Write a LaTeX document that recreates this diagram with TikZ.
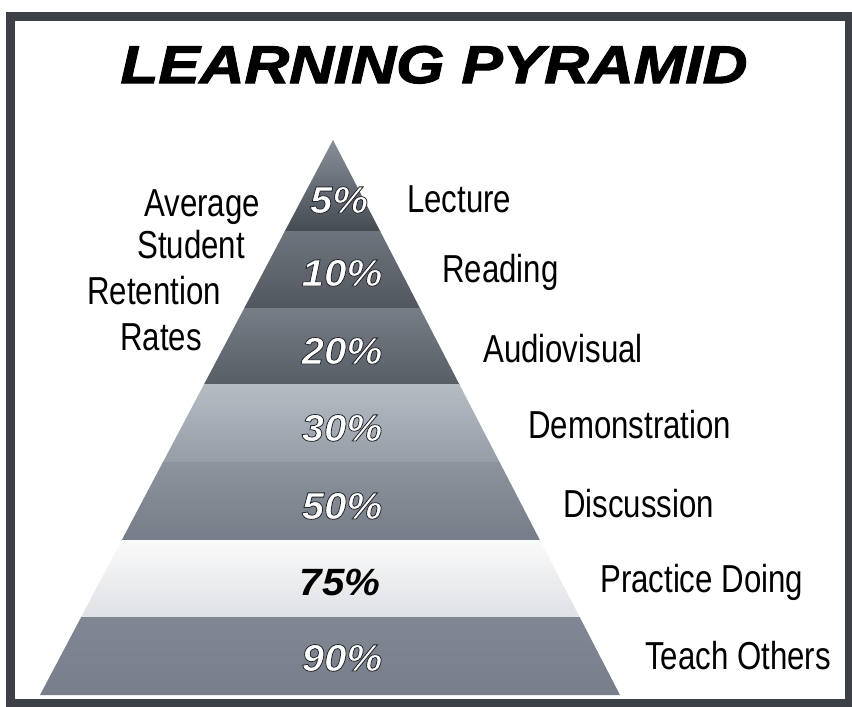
\documentclass[tikz,border=0pt]{standalone}
\usepackage{fontspec}
\setmainfont[FakeStretch=0.8]{Liberation Sans}
\newfontfamily\pctfont[FakeStretch=1.06]{Liberation Sans}
\newfontfamily\ttlfont[FakeStretch=1.17,FakeBold=2.2]{Liberation Sans}
\definecolor{framec}{HTML}{3C4148}
\newcommand{\outlined}[1]{\special{pdf:literal direct 2 Tr 0.8 w 0.13 0.14 0.16 RG}#1\special{pdf:literal direct 0 Tr}}
\tikzset{
  lbl/.style={anchor=base west, inner sep=0pt, font=\fontsize{39}{42}\selectfont, text=black},
  leftlbl/.style={anchor=base, inner sep=0pt, font=\fontsize{39}{42}\selectfont, text=black},
  pct/.style={anchor=base, inner sep=0pt, font=\pctfont\bfseries\itshape\fontsize{38}{40}\selectfont, text=white},
  band/.style={draw=none}
}
\begin{document}
\begin{tikzpicture}[x=1pt,y=-1pt]
\useasboundingbox (0,0) rectangle (852,707);
\fill[white] (0,0) rectangle (852,707);
% frame
\draw[framec, line width=9pt] (10,16) rectangle (849,703);
% pyramid
\coordinate (apex) at (333,140);
\coordinate (bl) at (40,695);
\coordinate (br) at (620,695);
\begin{scope}
\clip (apex) -- (br) -- (bl) -- cycle;
\shade[band, top color={rgb,255:red,138;green,145;blue,155}, bottom color={rgb,255:red,70;green,75;blue,83}] (0,138) rectangle (852,231);
\shade[band, top color={rgb,255:red,110;green,116;blue,125}, bottom color={rgb,255:red,82;green,87;blue,95}] (0,231) rectangle (852,308);
\shade[band, top color={rgb,255:red,118;green,125;blue,134}, bottom color={rgb,255:red,88;green,94;blue,102}] (0,308) rectangle (852,384);
\shade[band, top color={rgb,255:red,182;green,188;blue,196}, bottom color={rgb,255:red,150;green,157;blue,167}] (0,384) rectangle (852,462);
\shade[band, top color={rgb,255:red,140;green,147;blue,157}, bottom color={rgb,255:red,118;green,125;blue,136}] (0,462) rectangle (852,540);
\shade[band, top color={rgb,255:red,250;green,250;blue,250}, bottom color={rgb,255:red,222;green,225;blue,229}] (0,540) rectangle (852,617);
\shade[band, top color={rgb,255:red,128;green,135;blue,147}, bottom color={rgb,255:red,120;green,127;blue,139}] (0,617) rectangle (852,696);
\end{scope}
% title
\node[anchor=base, inner sep=0pt, font=\ttlfont\bfseries\itshape\fontsize{53}{56}\selectfont, text=black] (title) at (434,83) {LEARNING PYRAMID};
% left labels
\node[leftlbl] (avg) at (202,216) {Average};
\node[leftlbl] (stu) at (191,258) {Student};
\node[leftlbl] (ret) at (154,304) {Retention};
\node[leftlbl] (rat) at (161,350) {Rates};
% right labels
\node[lbl] (lec) at (407,212) {Lecture};
\node[lbl] (rea) at (442,282) {Reading};
\node[lbl] (aud) at (483,362) {Audiovisual};
\node[lbl] (dem) at (528,438) {Demonstration};
\node[lbl] (dis) at (563,517) {Discussion};
\node[lbl] (pra) at (600,592) {Practice Doing};
\node[lbl] (tea) at (645,669) {Teach Others};
% percentages
\node[pct] (p5) at (339,213) {\outlined{5\%}};
\node[pct] (p10) at (342,286) {\outlined{10\%}};
\node[pct] (p20) at (342,364) {\outlined{20\%}};
\node[pct] (p30) at (342,441) {\outlined{30\%}};
\node[pct] (p50) at (342,519) {\outlined{50\%}};
\node[pct, text=black] (p75) at (340,595) {75\%};
\node[pct] (p90) at (342,671) {\outlined{90\%}};
\end{tikzpicture}
\end{document}
